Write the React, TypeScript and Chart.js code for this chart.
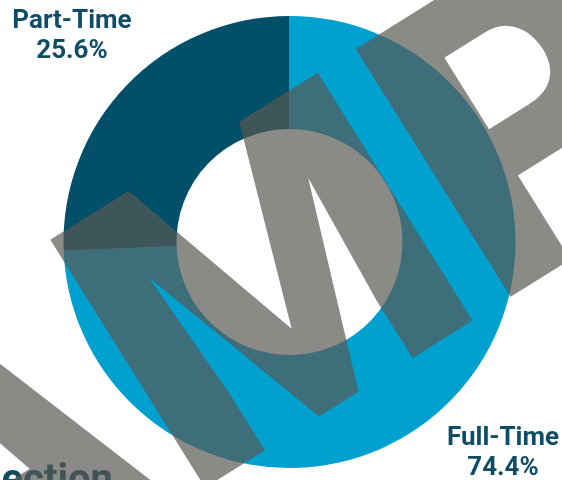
import React, { useEffect, useRef } from "react";
import { Chart, registerables } from "chart.js";

Chart.register(...registerables);

const categories = ["Full-Time", "Part-Time"];
const values = [74.4, 25.6];
const valueLabels = ["74.4%", "25.6%"];
const colors = ["#00a0cf", "#024f6a"];
const watermarkText = "SAMPLE";
const headingText = "Section";

const W = 562;
const H = 480;

const labelPlugin = {
  id: "sliceLabels",
  afterDatasetsDraw(chart: any) {
    const ctx = chart.ctx;
    ctx.save();
    ctx.fillStyle = "#0f4c66";
    ctx.textAlign = "center";
    ctx.textBaseline = "alphabetic";
    ctx.font = "bold 26px Roboto";
    ctx.fillText(categories[1], 72, 28);
    ctx.fillText(valueLabels[1], 72, 58);
    ctx.fillText(categories[0], 503, 445);
    ctx.fillText(valueLabels[0], 503, 475);
    ctx.textAlign = "right";
    ctx.font = "bold 40px Roboto";
    ctx.fillStyle = "#124a5e";
    ctx.fillText(headingText, 113, 492);
    ctx.restore();
  },
};

const watermarkPlugin = {
  id: "watermark",
  afterDraw(chart: any) {
    const ctx = chart.ctx;
    ctx.save();
    ctx.font = "900 411px Roboto";
    ctx.textAlign = "left";
    ctx.textBaseline = "alphabetic";
    const theta = (-32 * Math.PI) / 180;
    const head = watermarkText.slice(0, 2);
    const tail = watermarkText.slice(2);
    const w1 = ctx.measureText(head).width;
    const wM = ctx.measureText(tail.slice(0, 1)).width;
    const d = w1 + wM / 2;
    const ox = 339 - d * Math.cos(theta);
    const oy = 404 - d * Math.sin(theta);
    ctx.translate(ox, oy);
    ctx.rotate(theta);
    ctx.fillStyle = "rgba(88,88,84,0.7)";
    ctx.fillText(head, -8, 0);
    ctx.fillText(tail, w1, 0);
    ctx.restore();
  },
};

export default function App() {
  const ref = useRef<HTMLCanvasElement | null>(null);
  useEffect(() => {
    if (!ref.current) return;
    const chart = new Chart(ref.current, {
      type: "doughnut",
      data: {
        labels: categories,
        datasets: [
          {
            data: values,
            backgroundColor: colors,
            borderWidth: 0,
          },
        ],
      },
      options: {
        animation: false,
        responsive: false,
        cutout: "50%",
        layout: { padding: { left: 63.5, right: 46.5, top: 16, bottom: 12 } },
        plugins: {
          legend: { display: false },
          tooltip: { enabled: false },
        },
      },
      plugins: [labelPlugin, watermarkPlugin],
    });
    return () => chart.destroy();
  }, []);
  return (
    <div style={{ position: "fixed", left: 0, top: 0, width: W, height: H, background: "#fff" }}>
      <canvas ref={ref} width={W} height={H} style={{ display: "block", width: W, height: H }} />
    </div>
  );
}
